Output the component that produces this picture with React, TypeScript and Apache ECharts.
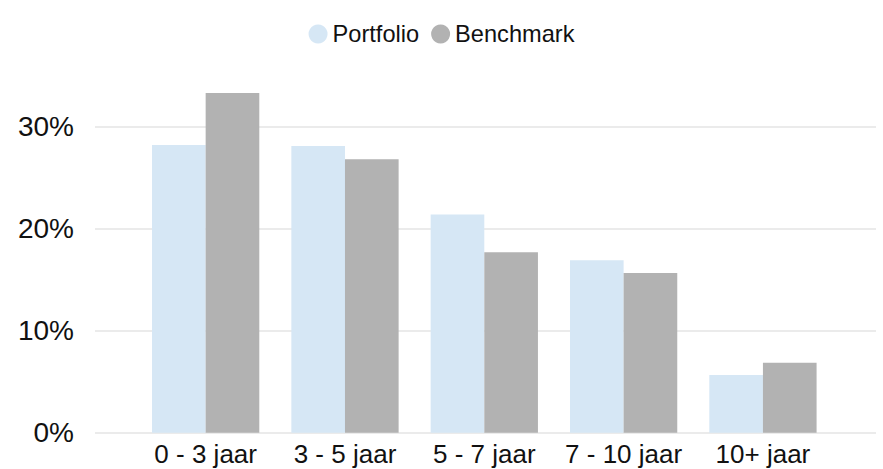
import React, { useEffect, useRef } from "react";
import * as echarts from "echarts";

const categories = ["0 - 3 jaar", "3 - 5 jaar", "5 - 7 jaar", "7 - 10 jaar", "10+ jaar"];
const portfolio = [28.2, 28.1, 21.4, 16.9, 5.65];
const benchmark = [33.3, 26.8, 17.7, 15.65, 6.85];
const seriesNames = ["Portfolio", "Benchmark"];
const yMin = 0;
const yMax = 35;
const yInterval = 10;

const FONT = "'Liberation Sans', Arial, Helvetica, sans-serif";

export default function App() {
  const ref = useRef<HTMLDivElement>(null);
  useEffect(() => {
    if (!ref.current) return;
    const chart = echarts.init(ref.current, null, { renderer: "svg" });
    chart.setOption({
      animation: false,
      backgroundColor: "#ffffff",
      textStyle: { fontFamily: FONT },
      legend: {
        data: seriesNames,
        top: 17,
        left: "center",
        icon: "circle",
        itemWidth: 19,
        itemHeight: 19,
        itemGap: 12,
        textStyle: { fontSize: 23.6, color: "#111111", fontFamily: FONT },
      },
      grid: [
        { left: 95, right: 7, top: 75.7, bottom: 36.3 },
        { left: 136, right: 50.4, top: 75.7, bottom: 36.3 },
      ],
      xAxis: [
        { type: "value", gridIndex: 0, show: false, min: 0, max: 1 },
        {
          type: "category",
          gridIndex: 1,
          data: categories,
          axisLine: { show: false },
          axisTick: { show: false },
          axisLabel: { interval: 0, fontSize: 26, color: "#111111", margin: 8, fontFamily: FONT },
        },
      ],
      yAxis: [
        {
          type: "value",
          gridIndex: 0,
          min: yMin,
          max: yMax,
          interval: yInterval,
          axisLine: { show: false },
          axisTick: { show: false },
          axisLabel: {
            formatter: "{value}%",
            fontSize: 28,
            color: "#111111",
            margin: 21,
            showMaxLabel: false,
            fontFamily: FONT,
          },
          splitLine: { show: true, showMaxLine: false, lineStyle: { color: "#ebebeb", width: 2 } },
        },
        { type: "value", gridIndex: 1, min: yMin, max: yMax, interval: yInterval, show: false, splitLine: { show: false } },
      ],
      series: [
        {
          name: seriesNames[0],
          type: "bar",
          xAxisIndex: 1,
          yAxisIndex: 1,
          data: portfolio,
          barGap: "0%",
          barCategoryGap: "23%",
          itemStyle: { color: "#d6e7f5" },
        },
        {
          name: seriesNames[1],
          type: "bar",
          xAxisIndex: 1,
          yAxisIndex: 1,
          data: benchmark,
          barGap: "0%",
          barCategoryGap: "23%",
          itemStyle: { color: "#b2b2b2" },
        },
      ],
    });
    return () => chart.dispose();
  }, []);
  return (
    <div
      ref={ref}
      style={{ position: "absolute", left: 0, top: 0, width: 883, height: 469, background: "#fff" }}
    />
  );
}
